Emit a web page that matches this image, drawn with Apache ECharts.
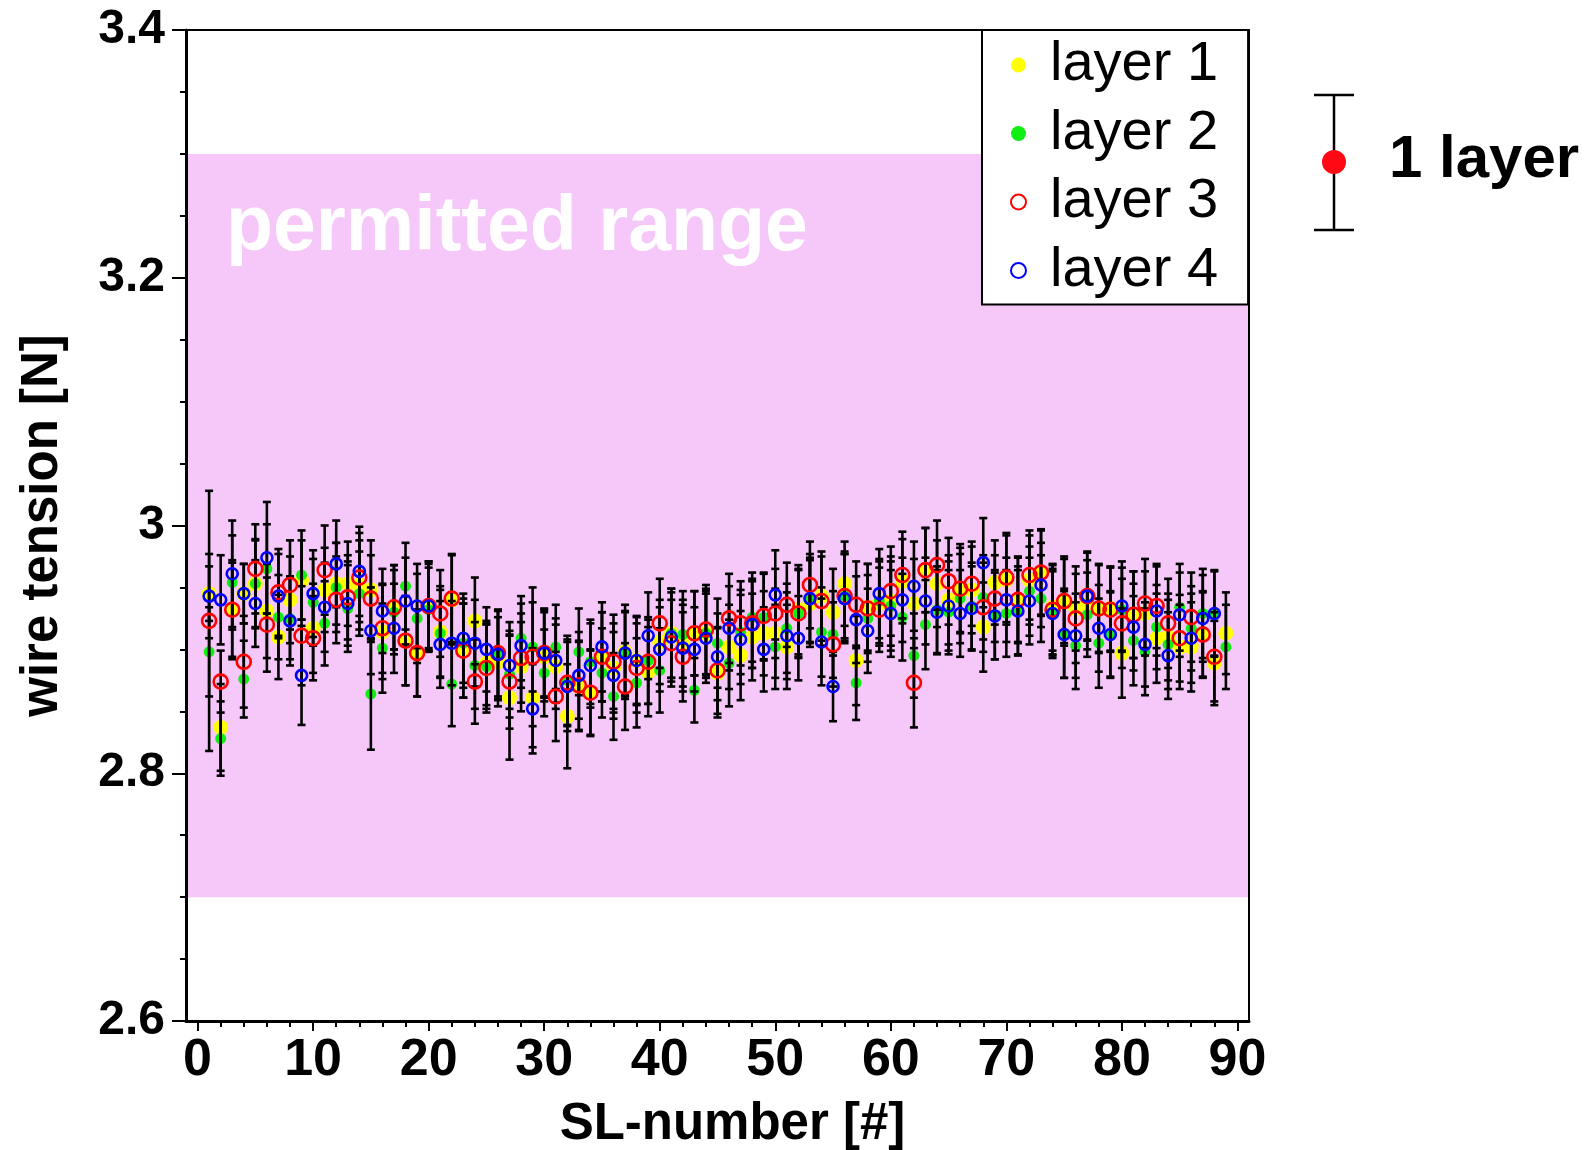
<!DOCTYPE html>
<html>
<head>
<meta charset="utf-8">
<script src="https://cdn.jsdelivr.net/npm/echarts@6/dist/echarts.min.js"></script>
<style>
  html, body { margin: 0; padding: 0; background: #fff; }
  #chart { width: 1591px; height: 1150px; }
</style>
</head>
<body>
<div id="chart"></div>
<script>
const FONT = 'Liberation Sans, Arial, Helvetica, sans-serif';

// SL numbers (x positions)
const slNumbers = [1,2,3,4,5,6,7,8,9,10,11,12,13,14,15,16,17,18,19,20,
  21,22,23,24,25,26,27,28,29,30,31,32,33,34,35,36,37,38,39,40,
  41,42,43,44,45,46,47,48,49,50,51,52,53,54,55,56,57,58,59,60,
  61,62,63,64,65,66,67,68,69,70,71,72,73,74,75,76,77,78,79,80,
  81,82,83,84,85,86,87,88,89];

const xMajorTicks = [0, 10, 20, 30, 40, 50, 60, 70, 80, 90];
const xMinorTicks = [2,4,6,8,12,14,16,18,22,24,26,28,32,34,36,38,42,44,46,48,
  52,54,56,58,62,64,66,68,72,74,76,78,82,84,86,88];

const permittedRange = [2.7, 3.3];

// wire tension [N], one value per SL
const layer1 = [2.945,2.837,2.932,2.945,2.953,2.931,2.910,2.940,2.956,2.917,
  2.948,2.953,2.953,2.952,2.948,2.914,2.934,2.907,2.897,2.935,
  2.914,2.940,2.899,2.923,2.889,2.890,2.861,2.886,2.861,2.894,
  2.886,2.846,2.870,2.865,2.894,2.885,2.898,2.891,2.882,2.906,
  2.913,2.905,2.913,2.913,2.881,2.902,2.895,2.910,2.913,2.913,
  2.902,2.932,2.937,2.943,2.930,2.953,2.891,2.934,2.937,2.939,
  2.955,2.937,2.964,2.953,2.940,2.948,2.948,2.918,2.954,2.956,
  2.940,2.956,2.962,2.934,2.939,2.933,2.936,2.933,2.933,2.897,
  2.928,2.929,2.909,2.910,2.902,2.902,2.912,2.889,2.913];
const layer1Err = [0.022,0.035,0.040,0.024,0.036,0.038,0.034,0.035,0.032,0.036,
  0.034,0.033,0.034,0.036,0.040,0.038,0.034,0.036,0.035,0.034,
  0.037,0.036,0.038,0.035,0.034,0.036,0.050,0.036,0.040,0.036,
  0.034,0.042,0.036,0.035,0.036,0.036,0.038,0.035,0.036,0.034,
  0.036,0.035,0.034,0.036,0.036,0.034,0.036,0.035,0.034,0.036,
  0.034,0.036,0.035,0.036,0.035,0.034,0.036,0.035,0.034,0.036,
  0.034,0.036,0.034,0.035,0.036,0.034,0.035,0.036,0.034,0.036,
  0.035,0.036,0.034,0.035,0.036,0.034,0.036,0.035,0.034,0.036,
  0.035,0.034,0.036,0.035,0.034,0.036,0.035,0.034,0.033];

const layer2 = [2.898,2.828,2.954,2.876,2.953,2.965,2.926,2.925,2.960,2.938,
  2.921,2.950,2.933,2.945,2.864,2.901,2.930,2.951,2.925,2.932,
  2.913,2.872,2.905,2.887,2.886,2.895,2.880,2.909,2.902,2.881,
  2.902,2.875,2.898,2.890,2.881,2.862,2.896,2.873,2.891,2.883,
  2.913,2.912,2.867,2.913,2.905,2.889,2.914,2.926,2.926,2.902,
  2.917,2.929,2.940,2.914,2.912,2.943,2.873,2.925,2.939,2.935,
  2.926,2.895,2.920,2.932,2.930,2.941,2.935,2.942,2.928,2.929,
  2.930,2.947,2.941,2.929,2.913,2.903,2.928,2.905,2.912,2.932,
  2.907,2.898,2.918,2.904,2.934,2.917,2.929,2.929,2.902];
const layer2Err = [0.036,0.030,0.038,0.031,0.035,0.036,0.034,0.033,0.036,0.035,
  0.034,0.036,0.035,0.034,0.045,0.036,0.034,0.035,0.036,0.034,
  0.035,0.034,0.036,0.035,0.034,0.036,0.035,0.034,0.036,0.035,
  0.034,0.036,0.035,0.034,0.036,0.035,0.034,0.036,0.035,0.034,
  0.036,0.035,0.026,0.034,0.036,0.035,0.034,0.036,0.035,0.034,
  0.036,0.035,0.034,0.036,0.035,0.034,0.030,0.035,0.034,0.036,
  0.035,0.034,0.036,0.035,0.034,0.036,0.035,0.034,0.036,0.035,
  0.034,0.036,0.035,0.034,0.036,0.035,0.034,0.036,0.035,0.034,
  0.036,0.035,0.034,0.036,0.035,0.034,0.036,0.035,0.034];

const layer3 = [2.923,2.874,2.932,2.890,2.965,2.920,2.946,2.952,2.911,2.909,
  2.964,2.940,2.942,2.958,2.941,2.917,2.934,2.907,2.897,2.935,
  2.929,2.941,2.899,2.874,2.885,2.897,2.874,2.893,2.894,2.897,
  2.862,2.873,2.871,2.865,2.894,2.890,2.870,2.885,2.890,2.921,
  2.905,2.894,2.913,2.916,2.883,2.925,2.921,2.921,2.927,2.929,
  2.936,2.929,2.952,2.939,2.904,2.943,2.936,2.933,2.932,2.947,
  2.960,2.873,2.964,2.968,2.955,2.949,2.953,2.934,2.941,2.958,
  2.940,2.960,2.962,2.932,2.939,2.925,2.943,2.933,2.932,2.921,
  2.928,2.937,2.935,2.921,2.909,2.926,2.912,2.894];
const layer3Err = [0.105,0.025,0.038,0.037,0.036,0.038,0.035,0.036,0.040,0.034,
  0.036,0.035,0.034,0.036,0.035,0.036,0.034,0.036,0.035,0.036,
  0.035,0.036,0.038,0.034,0.036,0.035,0.038,0.036,0.056,0.036,
  0.036,0.035,0.036,0.034,0.036,0.038,0.035,0.036,0.034,0.036,
  0.035,0.036,0.034,0.036,0.035,0.036,0.034,0.036,0.035,0.036,
  0.034,0.036,0.035,0.036,0.034,0.036,0.035,0.036,0.034,0.036,
  0.035,0.036,0.034,0.036,0.035,0.036,0.034,0.036,0.035,0.036,
  0.034,0.036,0.035,0.036,0.034,0.036,0.035,0.036,0.034,0.036,
  0.035,0.036,0.034,0.036,0.035,0.036,0.034,0.036];

const layer4 = [2.943,2.940,2.961,2.945,2.937,2.974,2.943,2.923,2.879,2.945,
  2.934,2.969,2.937,2.963,2.915,2.931,2.917,2.939,2.935,2.935,
  2.904,2.905,2.909,2.905,2.900,2.896,2.887,2.903,2.852,2.897,
  2.891,2.870,2.879,2.887,2.902,2.879,2.897,2.891,2.911,2.900,
  2.910,2.901,2.900,2.909,2.894,2.917,2.908,2.920,2.900,2.944,
  2.911,2.909,2.941,2.906,2.870,2.941,2.924,2.915,2.945,2.929,
  2.940,2.951,2.939,2.930,2.935,2.929,2.933,2.970,2.927,2.940,
  2.931,2.939,2.952,2.929,2.912,2.911,2.943,2.917,2.912,2.935,
  2.918,2.904,2.931,2.895,2.928,2.909,2.925,2.929];
const layer4Err = [0.034,0.036,0.043,0.024,0.035,0.045,0.034,0.036,0.040,0.035,
  0.036,0.035,0.034,0.036,0.035,0.034,0.036,0.035,0.034,0.036,
  0.035,0.034,0.036,0.035,0.034,0.036,0.035,0.034,0.036,0.035,
  0.034,0.036,0.035,0.034,0.036,0.035,0.034,0.036,0.035,0.034,
  0.036,0.035,0.034,0.036,0.035,0.034,0.036,0.035,0.034,0.036,
  0.035,0.034,0.036,0.035,0.028,0.036,0.035,0.034,0.036,0.035,
  0.034,0.036,0.035,0.034,0.036,0.035,0.034,0.036,0.035,0.034,
  0.036,0.035,0.034,0.036,0.035,0.034,0.036,0.035,0.034,0.036,
  0.035,0.034,0.036,0.035,0.034,0.036,0.035,0.034];

function points(vals) {
  return vals.map((v, i) => [slNumbers[i], v]);
}
function errPoints(vals, errs) {
  return vals.map((v, i) => [slNumbers[i], v, v - errs[i], v + errs[i]]);
}

function errorBar(params, api) {
  const x = api.value(0);
  const top = api.coord([x, api.value(3)]);
  const bot = api.coord([x, api.value(2)]);
  const w = 4;
  const style = { stroke: '#000', lineWidth: 2.6 };
  return {
    type: 'group',
    children: [
      { type: 'line', shape: { x1: top[0], y1: top[1], x2: bot[0], y2: bot[1] }, style: style },
      { type: 'line', shape: { x1: top[0] - w, y1: top[1], x2: top[0] + w, y2: top[1] }, style: style },
      { type: 'line', shape: { x1: bot[0] - w, y1: bot[1], x2: bot[0] + w, y2: bot[1] }, style: style }
    ]
  };
}

function errSeries(name, vals, errs) {
  return {
    name: name,
    type: 'custom',
    z: 4,
    renderItem: errorBar,
    encode: { x: 0, y: [2, 3] },
    data: errPoints(vals, errs),
    silent: true
  };
}

const chart = echarts.init(document.getElementById('chart'));

chart.setOption({
  animation: false,
  textStyle: { fontFamily: FONT },
  grid: { left: 186, right: 342, top: 30, bottom: 129, outerBoundsMode: 'none', containLabel: false },
  legend: {
    orient: 'vertical',
    left: 982,
    top: 30,
    data: ['layer 1', 'layer 2', 'layer 3', 'layer 4'],
    backgroundColor: '#fff',
    borderColor: '#000',
    borderWidth: 2,
    borderRadius: 0,
    padding: [5, 30, 4, 28],
    itemGap: 8.5,
    itemWidth: 15,
    itemHeight: 15,
    selectedMode: false,
    z: 20,
    textStyle: { fontSize: 56, color: '#000', lineHeight: 60, padding: [0, 0, 0, 19], fontFamily: FONT }
  },
  xAxis: [
    {
      type: 'value', min: -1, max: 91, position: 'bottom', z: 10,
      name: 'SL-number [#]', nameLocation: 'middle', nameGap: 78,
      nameTextStyle: { fontSize: 51, fontWeight: 'bold', color: '#000', padding: [0, 0, 0, 30] },
      axisLine: { show: true, onZero: false, lineStyle: { color: '#000', width: 3 } },
      axisTick: { show: true, customValues: xMajorTicks, length: 10, lineStyle: { color: '#000', width: 2 } },
      axisLabel: { show: true, customValues: xMajorTicks, fontSize: 52, fontWeight: 'bold', color: '#000', margin: 14 },
      splitLine: { show: false }
    },
    {
      type: 'value', min: -1, max: 91, position: 'bottom', z: 10,
      axisLine: { show: false, onZero: false },
      axisTick: { show: true, customValues: xMinorTicks, length: 6, lineStyle: { color: '#000', width: 2 } },
      axisLabel: { show: false },
      splitLine: { show: false }
    },
    {
      type: 'value', min: -1, max: 91, position: 'top', z: 10,
      axisLine: { show: true, onZero: false, lineStyle: { color: '#000', width: 2 } },
      axisTick: { show: false },
      axisLabel: { show: false },
      splitLine: { show: false }
    }
  ],
  yAxis: [
    {
      type: 'value', min: 2.6, max: 3.4, interval: 0.2, position: 'left', z: 10,
      name: 'wire tension [N]', nameLocation: 'middle', nameGap: 118,
      nameTextStyle: { fontSize: 51, fontWeight: 'bold', color: '#000' },
      axisLine: { show: true, onZero: false, lineStyle: { color: '#000', width: 3 } },
      axisTick: { show: true, length: 14, lineStyle: { color: '#000', width: 2 } },
      minorTick: { show: true, splitNumber: 4, length: 6, lineStyle: { color: '#000', width: 2 } },
      axisLabel: {
        fontSize: 48, fontWeight: 'bold', color: '#000', margin: 21,
        formatter: v => (Math.abs(v - 3) < 1e-9 ? '3' : v.toFixed(1))
      },
      splitLine: { show: false }
    },
    {
      type: 'value', min: 2.6, max: 3.4, position: 'right', z: 10,
      axisLine: { show: true, onZero: false, lineStyle: { color: '#000', width: 2 } },
      axisTick: { show: false },
      axisLabel: { show: false },
      splitLine: { show: false }
    }
  ],
  graphic: [
    { type: 'line', z: 30, shape: { x1: 1334, y1: 95, x2: 1334, y2: 230 }, style: { stroke: '#000', lineWidth: 2.5 } },
    { type: 'line', z: 30, shape: { x1: 1314, y1: 95, x2: 1354, y2: 95 }, style: { stroke: '#000', lineWidth: 2.5 } },
    { type: 'line', z: 30, shape: { x1: 1314, y1: 230, x2: 1354, y2: 230 }, style: { stroke: '#000', lineWidth: 2.5 } },
    { type: 'circle', z: 31, shape: { cx: 1334, cy: 162, r: 12 }, style: { fill: '#ff0a14' } },
    { type: 'text', z: 30, x: 1389, y: 160,
      style: { text: '1 layer', fontSize: 60, fontWeight: 'bold', fontFamily: FONT, fill: '#000', align: 'left', verticalAlign: 'middle' } }
  ],
  series: [
    {
      name: 'band', type: 'scatter', z: 1, data: [], silent: true,
      markArea: {
        silent: true,
        itemStyle: { color: '#f6c8fa' },
        label: {
          show: true, position: [40, 36], color: '#fff',
          fontSize: 77, fontWeight: 'bold', fontFamily: FONT
        },
        data: [[{ name: 'permitted range', yAxis: permittedRange[0] }, { yAxis: permittedRange[1] }]]
      }
    },
    {
      name: 'layer 1', type: 'scatter', z: 2, symbol: 'circle', symbolSize: 15,
      itemStyle: { color: '#ffff00', opacity: 1 },
      data: points(layer1)
    },
    {
      name: 'layer 2', type: 'scatter', z: 3, symbol: 'circle', symbolSize: 11,
      itemStyle: { color: '#11ee11', opacity: 1 },
      data: points(layer2)
    },
    errSeries('err 1', layer1, layer1Err),
    errSeries('err 2', layer2, layer2Err),
    errSeries('err 3', layer3, layer3Err),
    errSeries('err 4', layer4, layer4Err),
    {
      name: 'layer 3', type: 'scatter', z: 5, symbol: 'circle', symbolSize: 14,
      itemStyle: { color: 'rgba(0,0,0,0)', borderColor: '#ff0000', borderWidth: 2.6, opacity: 1 },
      data: points(layer3)
    },
    {
      name: 'layer 4', type: 'scatter', z: 6, symbol: 'circle', symbolSize: 11,
      itemStyle: { color: 'rgba(0,0,0,0)', borderColor: '#0000ff', borderWidth: 2.6, opacity: 1 },
      data: points(layer4)
    }
  ]
});
</script>
</body>
</html>
